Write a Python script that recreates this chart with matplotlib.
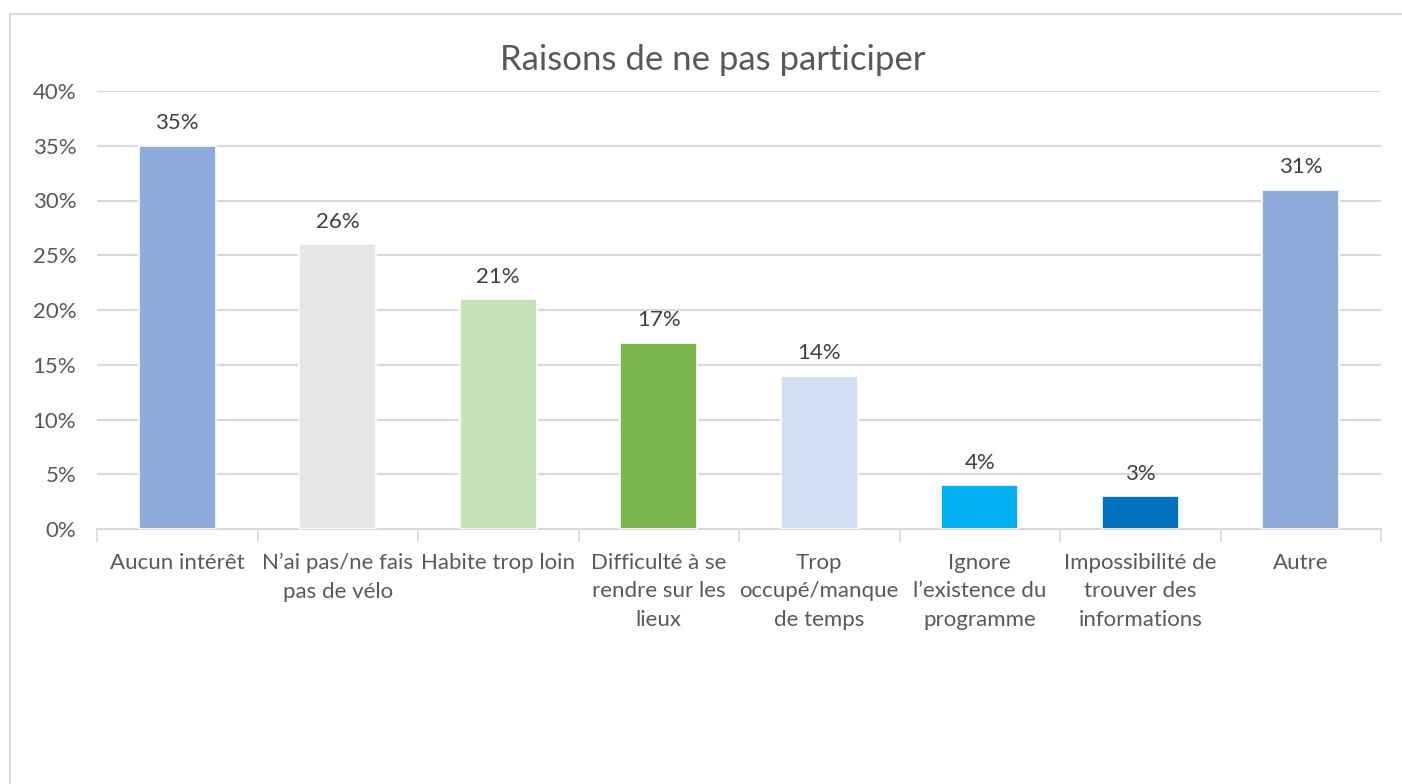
import matplotlib
matplotlib.use("Agg")
import matplotlib.pyplot as plt
from matplotlib.patches import Rectangle
import numpy as np

plt.rcParams["font.family"] = ["Lato", "DejaVu Sans"]

categories = ["Aucun intérêt", "N’ai pas/ne fais\npas de vélo", "Habite trop loin",
              "Difficulté à se\nrendre sur les\nlieux", "Trop\noccupé/manque\nde temps",
              "Ignore\nl’existence du\nprogramme", "Impossibilité de\ntrouver des\ninformations",
              "Autre"]
values = [0.35, 0.26, 0.21, 0.17, 0.14, 0.04, 0.03, 0.31]
bar_colors = ["#8FAADC", "#E7E6E6", "#C9E3B9", "#7AB74C", "#D2DEF1",
              "#00B0F0", "#0070C0", "#8FAADC"]
y_ticks = [0, 0.05, 0.10, 0.15, 0.20, 0.25, 0.30, 0.35, 0.40]

TXT = "#595959"
GRID = "#D9D9D9"

fig = plt.figure(figsize=(14.02, 7.84), dpi=100)
fig.patches.append(Rectangle((10 / 1402, -0.01), 1.1, 1 - 14 / 784 + 0.01,
                             transform=fig.transFigure, fill=False,
                             edgecolor=GRID, lw=1.5, zorder=0))
ax = fig.add_axes([97 / 1402, 1 - 529 / 784, (1381 - 97) / 1402, (529 - 91) / 784])

x = np.arange(len(categories))
ax.bar(x, values, width=0.48, color=bar_colors, edgecolor="white", lw=1.2, zorder=3)
for xi, v in zip(x, values):
    ax.annotate("%d%%" % round(v * 100), (xi, v), xytext=(0, 9), textcoords="offset points",
                ha="center", va="bottom", fontsize=16, color="#404040")

ax.set_ylim(0, 0.40)
ax.set_xlim(-0.5, len(categories) - 0.5)
ax.set_yticks(y_ticks)
ax.set_yticklabels(["%d%%" % round(t * 100) for t in y_ticks])
ax.yaxis.grid(True, color=GRID, lw=1.5, zorder=0)
ax.set_axisbelow(True)

ax.set_xticks(x)
ax.set_xticklabels(categories, linespacing=1.55, va="top")
ax.set_xticks(np.arange(len(categories) + 1) - 0.5, minor=True)
ax.tick_params(axis="x", which="major", length=0, pad=17, labelsize=16, labelcolor=TXT)
ax.tick_params(axis="x", which="minor", length=9, width=1.2, color=GRID)
ax.tick_params(axis="y", length=0, pad=15, labelsize=16, labelcolor=TXT)

for s in ("top", "right", "left"):
    ax.spines[s].set_visible(False)
ax.spines["bottom"].set_color(GRID)
ax.spines["bottom"].set_linewidth(1.5)

fig.text(0.5 + 12 / 1402, 1 - 60 / 784, "Raisons de ne pas participer", ha="center", va="center",
         fontsize=25, color=TXT)

fig.savefig("out.png", dpi=100)
